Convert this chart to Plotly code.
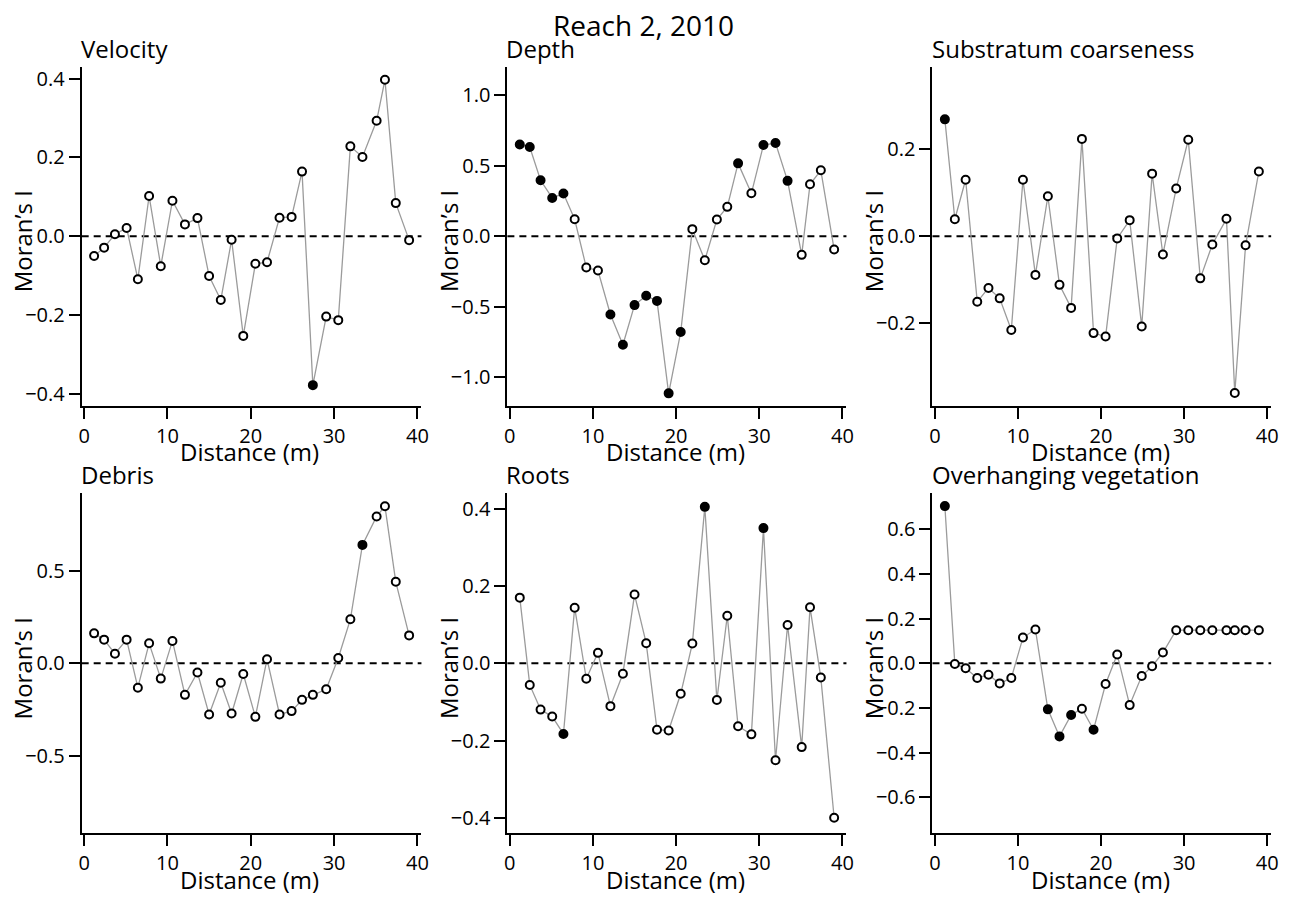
import plotly.graph_objects as go

# Mean distance of each distance class (m)
distance = [1.2, 2.4, 3.7, 5.1, 6.45, 7.8, 9.2, 10.6, 12.1, 13.6, 15.0, 16.4, 17.7, 19.1,
            20.55, 21.95, 23.45, 24.9, 26.15, 27.45, 29.05, 30.5, 31.95, 33.4, 35.1, 36.1, 37.4, 39.0]

# Moran's I per distance class for each habitat variable
velocity = [-0.050, -0.029, 0.005, 0.021, -0.109, 0.102, -0.076, 0.090, 0.030, 0.046, -0.101, -0.162,
            -0.009, -0.253, -0.070, -0.066, 0.047, 0.049, 0.164, -0.378, -0.204, -0.213, 0.228, 0.201,
            0.293, 0.397, 0.084, -0.010]
depth = [0.649, 0.632, 0.396, 0.271, 0.302, 0.120, -0.222, -0.243, -0.554, -0.769, -0.488, -0.422,
         -0.458, -1.113, -0.679, 0.050, -0.170, 0.118, 0.208, 0.516, 0.304, 0.646, 0.660, 0.392,
         -0.132, 0.368, 0.467, -0.094]
substratum = [0.269, 0.039, 0.130, -0.151, -0.119, -0.143, -0.216, 0.130, -0.089, 0.092, -0.112, -0.165,
              0.224, -0.223, -0.231, -0.005, 0.037, -0.208, 0.144, -0.042, 0.110, 0.222, -0.097, -0.019,
              0.040, -0.361, -0.021, 0.149]
debris = [0.162, 0.128, 0.052, 0.128, -0.132, 0.108, -0.083, 0.121, -0.171, -0.050, -0.277, -0.105,
          -0.272, -0.058, -0.290, 0.022, -0.277, -0.259, -0.198, -0.171, -0.141, 0.029, 0.238, 0.641,
          0.795, 0.850, 0.441, 0.151]
roots = [0.170, -0.056, -0.120, -0.138, -0.183, 0.144, -0.040, 0.027, -0.111, -0.027, 0.178, 0.052,
         -0.172, -0.174, -0.079, 0.051, 0.405, -0.095, 0.123, -0.163, -0.184, 0.350, -0.251, 0.099,
         -0.217, 0.145, -0.037, -0.400]
overhanging = [0.703, -0.003, -0.022, -0.066, -0.051, -0.090, -0.066, 0.115, 0.151, -0.206, -0.327, -0.231,
               -0.203, -0.297, -0.093, 0.039, -0.187, -0.057, -0.013, 0.048, 0.148, 0.148, 0.148, 0.148,
               0.148, 0.148, 0.148, 0.148]

# Indices of significant distance classes (drawn as filled circles)
velocity_sig = [19]
depth_sig = [0, 1, 2, 3, 4, 8, 9, 10, 11, 12, 13, 14, 19, 21, 22, 23]
substratum_sig = [0]
debris_sig = [23]
roots_sig = [4, 16, 21]
overhanging_sig = [0, 9, 10, 11, 13]

panel_titles = ["Velocity", "Depth", "Substratum coarseness", "Debris", "Roots", "Overhanging vegetation"]
panel_values = [velocity, depth, substratum, debris, roots, overhanging]
panel_sig = [velocity_sig, depth_sig, substratum_sig, debris_sig, roots_sig, overhanging_sig]
y_ranges = [(-0.43, 0.43), (-1.2, 1.2), (-0.39, 0.39), (-0.92, 0.92), (-0.44, 0.44), (-0.76, 0.76)]
y_ticks = [[-0.4, -0.2, 0.0, 0.2, 0.4], [-1.0, -0.5, 0.0, 0.5, 1.0], [-0.2, 0.0, 0.2],
           [-0.5, 0.0, 0.5], [-0.4, -0.2, 0.0, 0.2, 0.4], [-0.6, -0.4, -0.2, 0.0, 0.2, 0.4, 0.6]]
x_ticks = [0, 10, 20, 30, 40]
main_title = "Reach 2, 2010"

W, H = 1298, 897
FONT = "Open Sans"
col_px = [(79.3, 421.7), (508.3, 850.0), (936.7, 1278.0)]
row_px = [(65.0, 405.0), (493.0, 834.0)]

fig = go.Figure()
layout = dict(
    width=W, height=H, margin=dict(l=0, r=0, t=0, b=0),
    paper_bgcolor="white", plot_bgcolor="white", showlegend=False,
    font=dict(family=FONT, color="black"),
)
annotations = []
shapes = []

for i, (title, vals, sig) in enumerate(zip(panel_titles, panel_values, panel_sig)):
    r, c = divmod(i, 3)
    n = i + 1
    xs = "" if n == 1 else str(n)
    x0p, x1p = col_px[c]
    top, bot = row_px[r]
    xdom = [x0p / W, x1p / W]
    ydom = [1 - bot / H, 1 - top / H]

    fills = ["black" if k in sig else "white" for k in range(len(vals))]
    fig.add_trace(go.Scatter(
        x=distance, y=vals, mode="lines+markers",
        line=dict(color="#9b9b9b", width=1.3),
        marker=dict(size=8, color=fills, line=dict(color="black", width=2)),
        xaxis="x" + xs, yaxis="y" + xs, hoverinfo="x+y",
    ))

    axis_common = dict(showline=True, linecolor="black", linewidth=2, ticks="outside",
                       ticklen=11, tickwidth=2, tickcolor="black", showgrid=False, zeroline=False,
                       tickfont=dict(family=FONT, size=20, color="black"))
    layout["xaxis" + xs] = dict(domain=xdom, range=[-0.29, 40.48], tickvals=x_ticks,
                                anchor="y" + xs, **axis_common)
    layout["yaxis" + xs] = dict(domain=ydom, range=list(y_ranges[i]), tickvals=y_ticks[i],
                                tickformat=".1f", anchor="x" + xs, **axis_common)

    # dashed reference line at I = 0
    shapes.append(dict(type="line", xref="x" + xs + " domain", yref="y" + xs,
                       x0=0, x1=1, y0=0, y1=0, layer="below",
                       line=dict(color="black", width=2, dash="7px,5px")))

    # panel title, left-aligned on the y axis
    annotations.append(dict(text=title, xref="paper", yref="paper", x=xdom[0] - 3 / W, y=ydom[1],
                            xanchor="left", yanchor="bottom", showarrow=False,
                            font=dict(family=FONT, size=24, color="black")))
    # x axis title
    annotations.append(dict(text="Distance (m)", xref="paper", yref="paper",
                            x=(x0p + 2.4 + x1p - 6) / 2 / W, y=1 - (bot + 46.5) / H,
                            xanchor="center", yanchor="middle", showarrow=False, borderpad=0,
                            font=dict(family=FONT, size=24, color="black")))
    # y axis title
    annotations.append(dict(text="Moran\u2019s I", xref="paper", yref="paper",
                            x=(x0p - 60) / W, y=1 - ((top + bot) / 2 + 5) / H,
                            xanchor="center", yanchor="middle", textangle=-90, showarrow=False,
                            font=dict(family=FONT, size=24, color="black")))

annotations.append(dict(text=main_title, xref="paper", yref="paper", x=645 / W, y=1 - 2 / H,
                        xanchor="center", yanchor="top", showarrow=False,
                        font=dict(family=FONT, size=28, color="black")))

layout["annotations"] = annotations
layout["shapes"] = shapes
fig.update_layout(**layout)
fig.write_html("out.html")
